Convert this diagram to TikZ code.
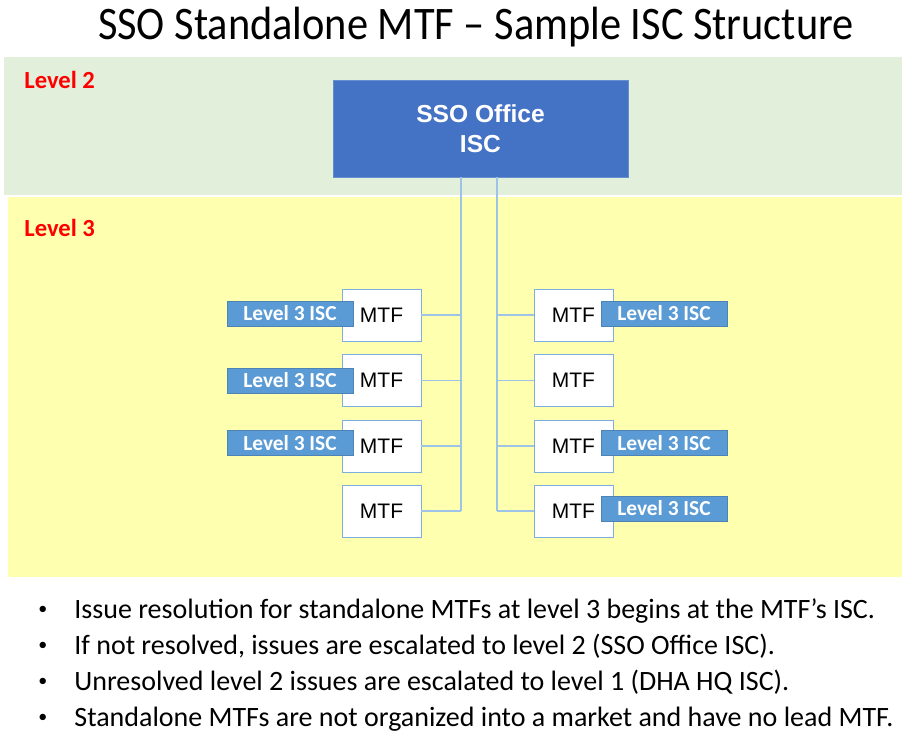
\documentclass[tikz,border=0pt]{standalone}
\usepackage{fontspec}
\setmainfont{Carlito}
\newfontfamily\arialfont{Liberation Sans}
\definecolor{bandgreen}{HTML}{E2EFDA}
\definecolor{bandyellow}{HTML}{FFFFB0}
\definecolor{ssoblue}{HTML}{4472C4}
\definecolor{iscblue}{HTML}{5B9BD5}
\definecolor{linkblue}{HTML}{9DC3E6}
\tikzset{
  ssobox/.style={draw=ssoblue!80!white, fill=ssoblue, text=white, minimum width=147.5pt, minimum height=48.5pt, font=\arialfont\bfseries\fontsize{12.3}{15}\selectfont, align=center, inner sep=0pt},
  mtfbox/.style={draw=iscblue!80!white, fill=white, minimum width=39.5pt, minimum height=26pt, font=\arialfont\fontsize{10.5}{12}\selectfont, inner sep=0pt},
  isctag/.style={draw=iscblue!85!black, fill=iscblue, text=white, minimum width=63pt, minimum height=12.5pt, font=\bfseries\fontsize{10.7}{12}\selectfont, inner sep=0pt},
  levellabel/.style={text=red, font=\bfseries\fontsize{12.3}{14}\selectfont, anchor=west, inner sep=0pt},
  link/.style={draw=linkblue, line width=0.6pt},
  bullet/.style={anchor=base west, font=\fontsize{14}{16}\selectfont, inner sep=0pt}
}
\begin{document}
\begin{tikzpicture}[x=0.5pt,y=-0.5pt]
  \useasboundingbox (0,0) rectangle (902,732);
  % bands
  \fill[bandgreen] (4,57) rectangle (902,195);
  \fill[bandyellow] (8,197) rectangle (902,577);
  % title
  \node[font=\fontsize{21.2}{26}\selectfont, inner sep=0pt] (title) at (476,27) {\scalebox{1}[1.1]{SSO Standalone MTF -- Sample ISC Structure}};
  \node[levellabel] (lvtwo) at (24,80) {Level 2};
  \node[levellabel] (lvthree) at (24,228) {Level 3};
  % top box
  \node[ssobox] (sso) at (480.5,128.5) {SSO Office\\ISC};
  \coordinate (lt) at (461,177);
  \coordinate (rt) at (497,177);
  % MTF columns
  \foreach \i/\y in {1/315,2/380.5,3/446,4/511} {
    \node[mtfbox] (ml\i) at (381.5,\y) {MTF};
    \node[mtfbox] (mr\i) at (573.5,\y) {MTF};
    \draw[link] (ml\i.east) -- (ml\i.east -| lt);
    \draw[link] (mr\i.west) -- (mr\i.west -| rt);
  }
  \draw[link] (lt) -- (lt |- ml4.east);
  \draw[link] (rt) -- (rt |- mr4.west);
  % ISC tags
  \node[isctag] (il1) at (290,313.5) {Level 3 ISC};
  \node[isctag] (il2) at (290,380.5) {Level 3 ISC};
  \node[isctag] (il3) at (290,443) {Level 3 ISC};
  \node[isctag] (ir1) at (664,313.5) {Level 3 ISC};
  \node[isctag] (ir3) at (664,443) {Level 3 ISC};
  \node[isctag] (ir4) at (664,508.5) {Level 3 ISC};
  % notes
  \foreach \n/\y/\t in {1/619/{Issue resolution for standalone MTFs at level 3 begins at the MTF’s ISC.},
                        2/655/{If not resolved, issues are escalated to level 2 (SSO Office ISC).},
                        3/691/{Unresolved level 2 issues are escalated to level 1 (DHA HQ ISC).},
                        4/727/{Standalone MTFs are not organized into a market and have no lead MTF.}} {
    \node[bullet, font=\fontsize{9}{10}\selectfont] (dot\n) at (38,\y-4) {\textbullet};
    \node[bullet] (note\n) at (74,\y) {\t};
  }
\end{tikzpicture}
\end{document}
